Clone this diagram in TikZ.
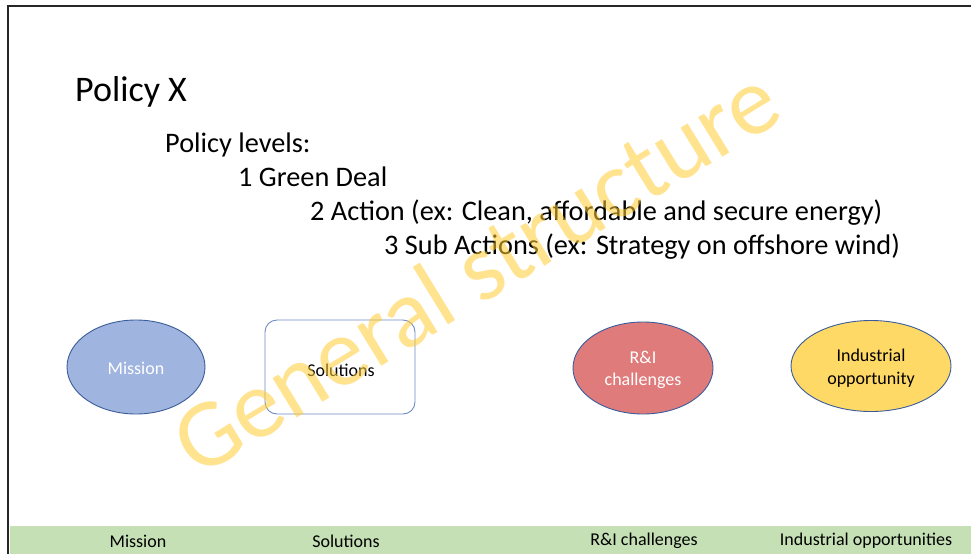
\documentclass[tikz,border=0pt]{standalone}
\usepackage{fontspec}
\setmainfont{Carlito}
\usetikzlibrary{shapes.geometric}
\definecolor{misfill}{HTML}{9FB5DF}
\definecolor{edgeblue}{HTML}{3A5C9A}
\definecolor{solblue}{HTML}{6E8CC4}
\definecolor{rifill}{HTML}{E07B7B}
\definecolor{indfill}{HTML}{FFD966}
\definecolor{band}{HTML}{C5E0B4}
\definecolor{wmark}{HTML}{FFCC33}
\tikzset{
  px/.style={x=1pt,y=-1pt},
  oval/.style={ellipse, draw=edgeblue, line width=0.9pt, inner sep=0pt},
  bodytext/.style={anchor=base west, inner sep=0pt, font=\fontsize{28.3}{33}\selectfont},
  shapetext/.style={font=\fontsize{18}{22.5}\selectfont, align=center, inner sep=0pt},
  bandtext/.style={font=\fontsize{18}{20}\selectfont, inner sep=0pt}
}
\begin{document}
\begin{tikzpicture}[px]
\useasboundingbox (0,0) rectangle (971,554);
\fill[white] (0,0) rectangle (971,554);
% frame
\draw[line width=2.2pt, black!85] (8,554) -- (8,6) -- (971,6);
% bottom band
\fill[band] (10,526) rectangle (971,554);
% titles
\node[anchor=base west, inner sep=0pt, font=\fontsize{36}{40}\selectfont] (title) at (75,101) {Policy X};
\node[bodytext] (lv) at (165,152) {Policy levels:};
\node[bodytext] (l1) at (238,186) {1 Green Deal};
\node[bodytext] (l2) at (310,220) {2 Action (ex: Clean, affordable and secure energy)};
\node[bodytext] (l3) at (384,254) {3 Sub Actions (ex: Strategy on offshore wind)};
% shapes
\node[oval, fill=misfill, minimum width=138pt, minimum height=94pt] (mis) at (136,367) {};
\node[draw=solblue, line width=0.9pt, rounded corners=12pt, fill=white, minimum width=150pt, minimum height=94pt] (sol) at (340,367) {};
\node[oval, fill=rifill, minimum width=140pt, minimum height=92pt] (ri) at (643,368) {};
\node[oval, fill=indfill, minimum width=160pt, minimum height=91pt] (ind) at (871,366) {};
\node[shapetext, text=white] (mist) at (136,368) {Mission};
\node[shapetext] (solt) at (341,370) {Solutions};
\node[shapetext, text=white] (rit) at (643,370) {R\&I\\challenges};
\node[shapetext] (indt) at (871,368) {Industrial\\opportunity};
% band labels
\node[bandtext] (b1) at (138,541) {Mission};
\node[bandtext] (b2) at (346,541) {Solutions};
\node[bandtext] (b3) at (644,541) {R\&I challenges};
\node[bandtext] (b4) at (866,541) {Industrial opportunities};
% watermark
\node[text=wmark, opacity=0.55, rotate=31.5, inner sep=0pt, font=\fontsize{97}{100}\selectfont] (wm) at (475,270) {General structure};
\end{tikzpicture}
\end{document}
